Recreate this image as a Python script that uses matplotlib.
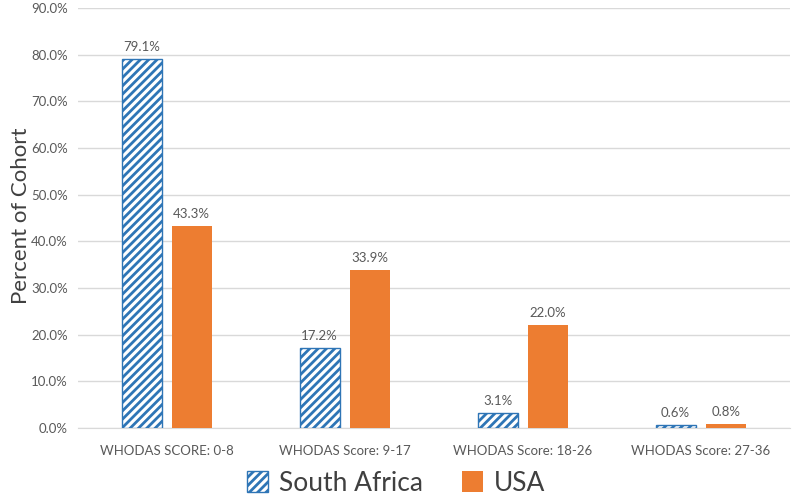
import numpy as np
import matplotlib
matplotlib.use('Agg')
import matplotlib.pyplot as plt

plt.rcParams['font.family'] = ['Lato', 'DejaVu Sans']
plt.rcParams['hatch.linewidth'] = 2.0

categories = ['WHODAS SCORE: 0-8', 'WHODAS Score: 9-17', 'WHODAS Score: 18-26', 'WHODAS Score: 27-36']
south_africa = [79.1, 17.2, 3.1, 0.6]
usa = [43.3, 33.9, 22.0, 0.8]

blue = '#2E75B6'
orange = '#ED7D31'
grey = '#595959'

fig = plt.figure(figsize=(7.92, 4.97), dpi=100)
ax = fig.add_axes([0.098, 0.139, 0.899, 0.845])

x = np.arange(len(categories))
w = 0.225
gap = 0.056
off = (w + gap) / 2

sa_bars = ax.bar(x - off, south_africa, w, color='white', edgecolor=blue,
                 hatch='////', linewidth=1.0, label='South Africa', zorder=3)
us_bars = ax.bar(x + off, usa, w, color=orange, label='USA', zorder=3)

for bars, vals in [(sa_bars, south_africa), (us_bars, usa)]:
    for b, v in zip(bars, vals):
        ax.text(b.get_x() + b.get_width() / 2, v + 1.3, f'{v:.1f}%',
                ha='center', va='bottom', fontsize=9.5, color=grey)

ax.set_xlim(-0.5, len(categories) - 0.5)
ax.set_ylim(0, 90)
ax.set_yticks(np.arange(0, 91, 10))
ax.set_yticklabels([f'{t:.1f}%' for t in np.arange(0, 91, 10)])
ax.set_xticks(x)
ax.set_xticklabels(categories)
ax.tick_params(axis='both', length=0, labelsize=9.5, colors=grey, pad=7)
ax.tick_params(axis='x', pad=12)
ax.grid(axis='y', color='#d9d9d9', linewidth=1.0, zorder=0)
for s in ['top', 'right', 'left']:
    ax.spines[s].set_visible(False)
ax.spines['bottom'].set_color('#d9d9d9')

fig.text(0.026, 0.565, 'Percent of Cohort', rotation=90, ha='center', va='center',
         fontsize=16, color='#404040')

fig.legend(handles=[sa_bars, us_bars], labels=['South Africa', 'USA'],
           loc='center', bbox_to_anchor=(0.5, 0.028), ncol=2, frameon=False,
           fontsize=19, labelcolor='#404040', handlelength=0.8, handleheight=0.8,
           columnspacing=1.5, handletextpad=0.4)

fig.savefig('out.png', dpi=100)
